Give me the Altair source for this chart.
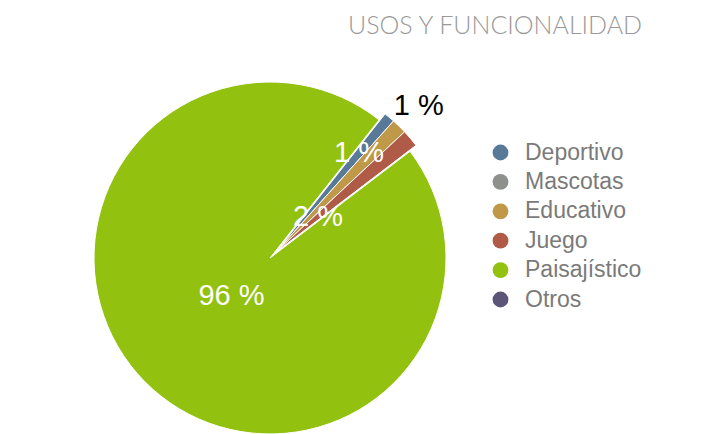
import math
import altair as alt
import pandas as pd

categories = ["Deportivo", "Mascotas", "Educativo", "Juego", "Paisajístico", "Otros"]
values = [1.0, 0.0, 1.4, 1.6, 96.0, 0.0]
colors = ["#587a98", "#8d908b", "#bf9848", "#b05a48", "#93c10f", "#5d5577"]
title_text = "USOS Y FUNCIONALIDAD"

start = math.radians(38.3)

df = pd.DataFrame({"cat": categories, "value": values, "order": list(range(len(categories)))})

base = alt.Chart(df).transform_window(
    cum="sum(value)", sort=[alt.SortField("order")], frame=[None, 0]
).transform_calculate(
    start="datum.cum - datum.value",
    mid="datum.cum - datum.value / 2",
    label="format(datum.value, '.0f') + ' %'",
)

theta_scale = alt.Scale(domain=[0, 100], range=[start, start + 2 * math.pi])
color_scale = alt.Scale(domain=categories, range=colors)

legend = alt.Legend(
    orient="none", legendX=481, legendY=133, title=None, symbolType="circle",
    symbolSize=250, labelFontSize=23, labelFont="Liberation Sans",
    labelColor="#7a7a7a", rowPadding=5.4, labelOffset=13, padding=0,
    symbolStrokeWidth=0,
)

CX, CY = 262, 250
EX, EY = 268, 244

main = base.transform_filter("datum.cat == 'Paisajístico'").mark_arc(
    x=CX, y=CY, outerRadius=176, stroke="white", strokeWidth=1
).encode(
    theta=alt.Theta("start:Q", scale=theta_scale, stack=None),
    theta2="cum:Q",
    color=alt.Color("cat:N", scale=color_scale, legend=legend),
)

expl = base.transform_filter("datum.cat != 'Paisajístico' && datum.value > 0").mark_arc(
    x=EX, y=EY, outerRadius=176, stroke="white", strokeWidth=1
).encode(
    theta=alt.Theta("start:Q", scale=theta_scale, stack=None),
    theta2="cum:Q",
    color=alt.Color("cat:N", scale=color_scale, legend=legend),
)

def label_layer(cat, cx, cy, r, color):
    return base.transform_filter(f"datum.cat == '{cat}'").mark_text(
        x=cx, y=cy, radius=r, fontSize=29, font="Liberation Sans", color=color,
        align="center", baseline="middle",
    ).encode(
        theta=alt.Theta("mid:Q", scale=theta_scale, stack=None),
        text="label:N",
    )

t_main = label_layer("Paisajístico", CX, CY, 54, "white")
t_juego = label_layer("Juego", EX, EY, 55, "white")
t_dep = label_layer("Deportivo", EX, EY, 129, "white")
t_edu = label_layer("Educativo", EX, EY, 204, "black")

title_chart = alt.Chart(pd.DataFrame({"t": [title_text]})).mark_text(
    x=487, y=26, align="center", baseline="alphabetic", fontSize=25,
    font="Lato", fontWeight=300, color="#999999",
).encode(text="t:N")

chart = alt.layer(main, expl, t_main, t_juego, t_dep, t_edu, title_chart).properties(
    width=693, height=426, padding=0, autosize=alt.AutoSizeParams(type="none")
).configure_view(stroke=None)

chart.save("out.html", embed_options={"renderer": "svg", "actions": False})
